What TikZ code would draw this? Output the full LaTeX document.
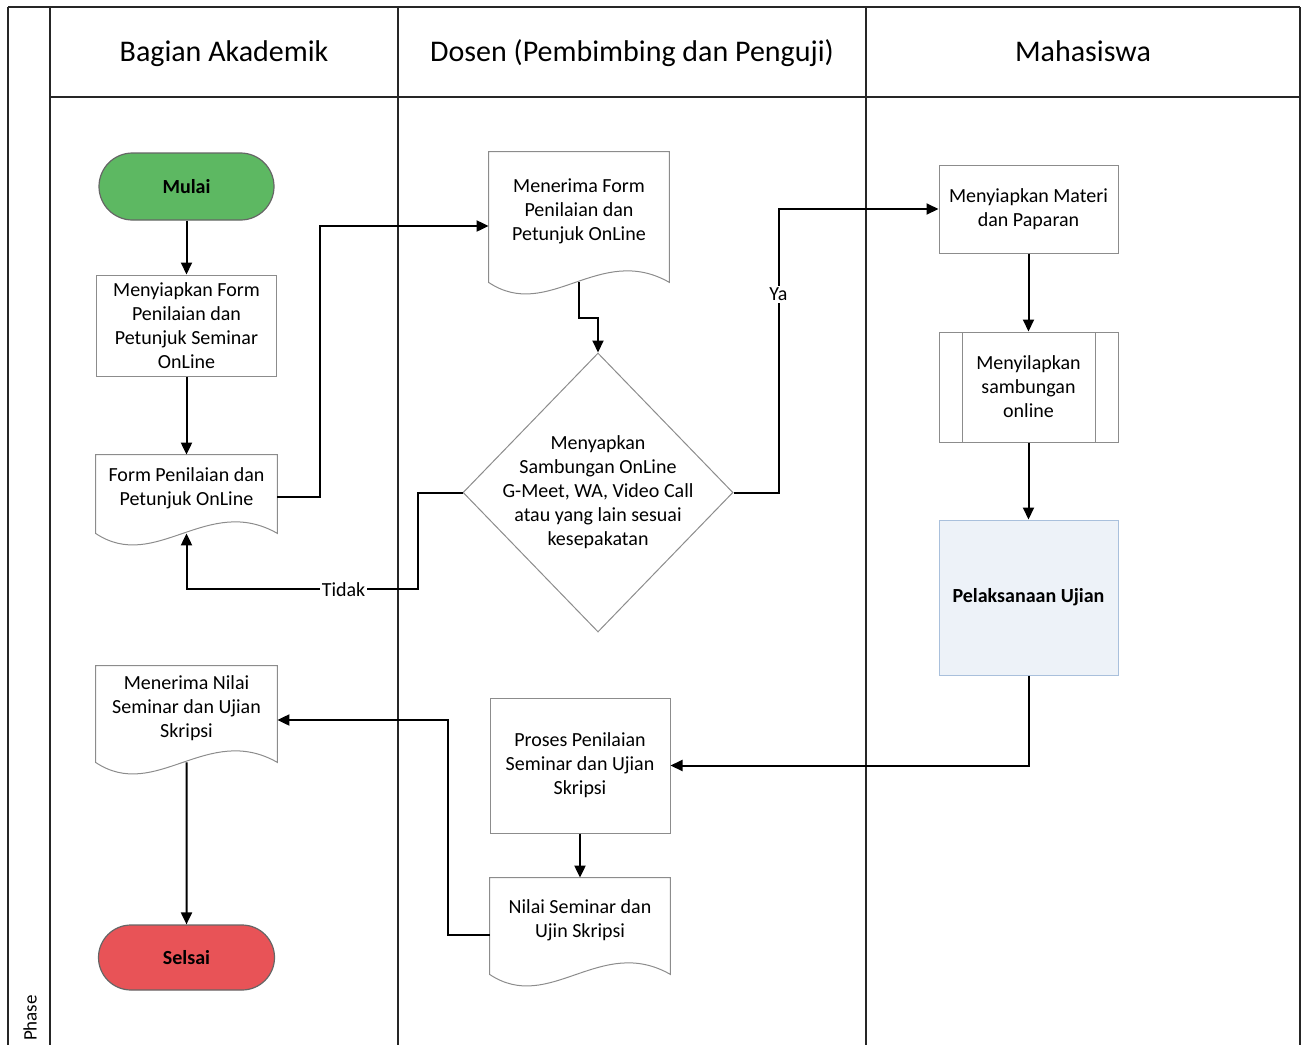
\documentclass[tikz,border=0pt]{standalone}
\usepackage{fontspec}
\setmainfont{Carlito}
\usetikzlibrary{arrows.meta,shapes.geometric,shapes.misc}
\definecolor{mulaigreen}{HTML}{5DB862}
\definecolor{selsaired}{HTML}{E85357}
\definecolor{ujianfill}{HTML}{EDF2F8}
\definecolor{ujianline}{HTML}{A9C0DC}
\newcommand{\docshape}[1]{%
  \draw [docline] (#1.north west) -- (#1.north east) -- ([yshift=-6pt]#1.south east)
    .. controls +(-35pt,20pt) and +(30pt,-20pt) .. ([yshift=-6pt]#1.south west) -- cycle;
  \coordinate (#1-w) at ([yshift=-6pt]#1.south);}
\tikzset{
  lane/.style={draw=black!85, line width=1pt},
  head/.style={anchor=base, font=\fontsize{15}{18}\selectfont},
  txt/.style={align=center, inner sep=1pt, font=\fontsize{10}{12}\selectfont},
  box/.style={txt, draw=black!45, line width=0.5pt, rectangle},
  docnode/.style={txt, rectangle},
  docline/.style={draw=black!45, line width=0.5pt},
  term/.style={txt, rounded rectangle, draw=black!60, line width=0.6pt, font=\fontsize{10}{12}\selectfont\bfseries},
  subproc/.style={box, path picture={
      \draw [black!45] ([xshift=11.5pt]path picture bounding box.north west) -- ([xshift=11.5pt]path picture bounding box.south west)
        ([xshift=-11.5pt]path picture bounding box.north east) -- ([xshift=-11.5pt]path picture bounding box.south east);}},
  flow/.style={draw=black, line width=1pt, -{Triangle[length=6pt,width=5.5pt]}},
  lbl/.style={fill=white, inner sep=1pt, font=\fontsize{10}{12}\selectfont}
}
\begin{document}
\begin{tikzpicture}[x=0.5pt,y=-0.5pt]
      \useasboundingbox (0,0) rectangle (1303,1045);
      \draw [lane] (8,7) -- (1300,7);
      \draw [lane] (8,7) -- (8,1045);
      \draw [lane] (50,7) -- (50,1045);
      \draw [lane] (398,7) -- (398,1045);
      \draw [lane] (866,7) -- (866,1045);
      \draw [lane] (1300,7) -- (1300,1045);
      \draw [lane] (50,97) -- (1300,97);
      \node [head] (hakad) at (224,61) {Bagian Akademik};
      \node [head] (hdosen) at (632,61) {Dosen (Pembimbing dan Penguji)};
      \node [head] (hmhs) at (1083,61) {Mahasiswa};
      \node [rotate=90, font=\fontsize{9.5}{11}\selectfont] (phase) at (30,1018) {Phase};
      \node [term, fill=mulaigreen, minimum width=89.5pt, minimum height=33.5pt] (mulai) at (186.5,186.5) {Mulai};
      \node [box, minimum width=90pt, minimum height=50.5pt] (siapform) at (186.5,325.5) {Menyiapkan Form\\Penilaian dan\\Petunjuk Seminar\\OnLine};
      \node [docnode, minimum width=90.5pt, minimum height=33pt] (formdoc) at (186.5,488) {Form Penilaian dan\\Petunjuk OnLine};
      \node [docnode, minimum width=90pt, minimum height=59pt] (terimadoc) at (579,211) {Menerima Form\\Penilaian dan\\Petunjuk OnLine};
      \node [txt, diamond, draw=black!45, line width=0.5pt, inner sep=-6pt, minimum width=135pt, minimum height=139.5pt] (cek) at (598,492.5) {Menyapkan\\Sambungan OnLine\\G-Meet, WA, Video Call\\atau yang lain sesuai\\kesepakatan};
      \node [box, minimum width=89.5pt, minimum height=44pt] (materi) at (1028.5,209) {Menyiapkan Materi\\dan Paparan};
      \node [subproc, minimum width=89.5pt, minimum height=55pt] (sambung) at (1028.5,387) {Menyilapkan\\sambungan\\online};
      \node [box, draw=ujianline, fill=ujianfill, minimum width=89.5pt, minimum height=77.5pt, font=\fontsize{10}{12}\selectfont\bfseries] (ujian) at (1028.5,597.5) {Pelaksanaan Ujian};
      \node [box, minimum width=90pt, minimum height=67.5pt] (proses) at (580,765.5) {Proses Penilaian\\Seminar dan Ujian\\Skripsi};
      \node [docnode, minimum width=90pt, minimum height=42pt] (nilaidoc) at (580,920) {Nilai Seminar dan\\Ujin Skripsi};
      \node [docnode, minimum width=90.5pt, minimum height=42pt] (terimanilai) at (186.5,708) {Menerima Nilai\\Seminar dan Ujian\\Skripsi};
      \node [term, fill=selsaired, minimum width=90pt, minimum height=32.5pt] (selsai) at (186.5,957.5) {Selsai};
      \docshape{formdoc}
      \docshape{terimadoc}
      \docshape{nilaidoc}
      \docshape{terimanilai}
      \draw [flow] (mulai) -- (siapform);
      \draw [flow] (siapform) -- (formdoc);
      \draw [flow] ([yshift=-4.5pt]formdoc.east) -- ++(21.5pt,0) |- ([yshift=-7.5pt]terimadoc.west);
      \draw [flow] (terimadoc-w) -- ++(0,-18pt) -| (cek.north);
      \draw [flow] (cek.west) -- ++(-22.5pt,0) |- ([yshift=-28pt]formdoc-w) node [lbl, pos=0.66] {Tidak} -- (formdoc-w);
      \draw [flow] (cek.east) -- ++(22.5pt,0) |- node [lbl, pos=0.35] {Ya} (materi.west);
      \draw [flow] (materi) -- (sambung);
      \draw [flow] (sambung) -- (ujian);
      \draw [flow] (ujian.south) |- (proses.east);
      \draw [flow] (proses) -- (nilaidoc);
      \draw [flow] ([yshift=-7.5pt]nilaidoc.west) -- ++(-21pt,0) |- ([yshift=-6pt]terimanilai.east);
      \draw [flow] (terimanilai-w) -- (selsai);
\end{tikzpicture}
\end{document}
